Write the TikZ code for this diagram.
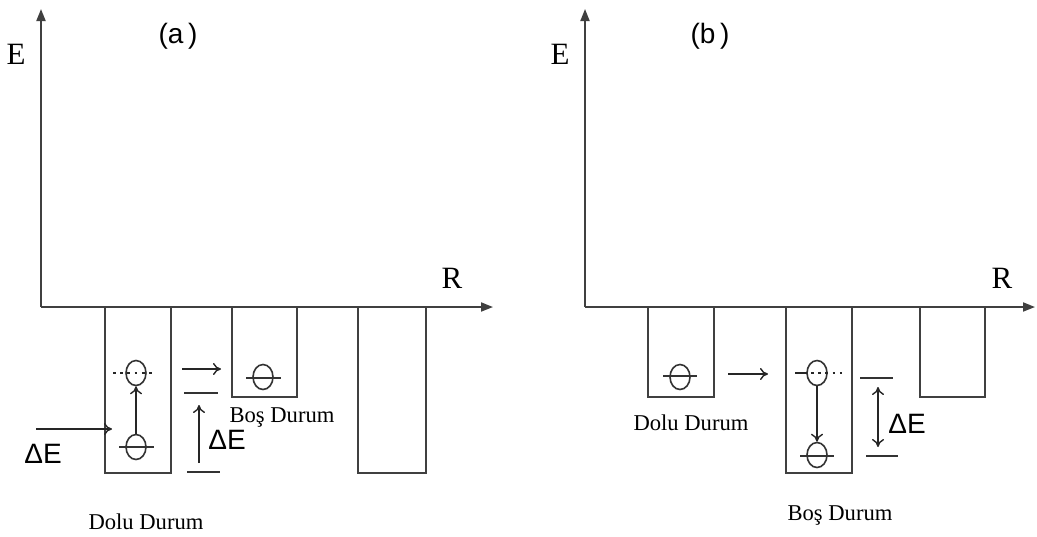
\documentclass[tikz,border=0pt]{standalone}
\usepackage{fontspec}
\setmainfont{Liberation Serif}
\newfontfamily\arialfont{Liberation Sans}
\usetikzlibrary{arrows.meta,shapes.geometric}

\begin{document}
\begin{tikzpicture}[x=0.5pt, y=-0.5pt,
  wall/.style={draw=black!75, line width=0.9pt},
  axis/.style={wall, -{Triangle[length=6pt, width=4.5pt]}},
  arr/.style={draw=black!85, line width=0.7pt, -{To[length=4pt, width=6pt]}},
  elec/.style={draw=black!80, line width=0.8pt, ellipse, minimum width=10pt, minimum height=12.5pt, inner sep=0pt},
  lvl/.style={draw=black!80, line width=0.8pt},
  dots/.style={draw=black!85, line width=1.4pt, dash pattern=on 1.4pt off 2.2pt},
  lbl/.style={font=\fontsize{11.3}{13}\selectfont, inner sep=0pt},
  big/.style={font=\fontsize{15.5}{17}\selectfont, inner sep=0pt},
  de/.style={font=\arialfont\fontsize{14}{16}\selectfont, inner sep=0pt},
  tag/.style={font=\arialfont\fontsize{14}{16}\selectfont, inner sep=0pt}
]
  \useasboundingbox (0,0) rectangle (1037,536);

  % Panel (a): axes
  \coordinate (oa) at (41,307);
  \coordinate (ea) at (41,9);
  \coordinate (ra) at (493,307);
  \draw[axis] (oa) -- (ea);
  \draw[axis] (oa) -- (ra);
  \node[big] (Ea) at (16,54) {E};
  \node[big] (Ra) at (452,278) {R};
  \node[tag] (tagA) at (178,36) {(a\,)};

  % Panel (a): wells
  \draw[wall] (105,307) |- (171,473) -- (171,307);
  \draw[wall] (232,307) |- (297,397) -- (297,307);
  \draw[wall] (358,307) |- (426,473) -- (426,307);

  % Panel (a): electrons and levels
  \node[elec] (aup) at (136,373) {};
  \node[elec] (alo) at (136,447) {};
  \node[elec] (abos) at (263,377) {};
  \draw[dots] (113,373) -- (156,373);
  \draw[lvl] (119,447) -- (154,447);
  \draw[lvl] (246,378) -- (281,378);
  \draw[arr] (alo) -- (aup);

  % Panel (a): excitation
  \coordinate (ain) at (36,429);
  \coordinate (aend) at (112,429);
  \draw[arr] (ain) -- (aend);
  \node[de] (dEa) at (43,454) {ΔE};
  \coordinate (tra) at (182,369);
  \coordinate (trb) at (221,369);
  \draw[arr] (tra) -- (trb);
  \draw[lvl] (184,393) -- (218,393);
  \draw[lvl] (187,472) -- (220,472);
  \coordinate (gapa) at (199,463);
  \coordinate (gapb) at (199,405);
  \draw[arr] (gapa) -- (gapb);
  \node[de] (dEb) at (227,440) {ΔE};
  \node[lbl] (bosA) at (282,417) {Boş Durum};
  \node[lbl] (doluA) at (146,522) {Dolu Durum};

  % Panel (b): axes
  \coordinate (ob) at (585,307);
  \coordinate (eb) at (585,9);
  \coordinate (rb) at (1035,307);
  \draw[axis] (ob) -- (eb);
  \draw[axis] (ob) -- (rb);
  \node[big] (Eb) at (560,54) {E};
  \node[big] (Rb) at (1002,278) {R};
  \node[tag] (tagB) at (710,36) {(b\,)};

  % Panel (b): wells
  \draw[wall] (648,307) |- (714,397) -- (714,307);
  \draw[wall] (786,307) |- (852,473) -- (852,307);
  \draw[wall] (920,307) |- (985,397) -- (985,307);

  % Panel (b): electrons and levels
  \node[elec] (bdolu) at (680,377) {};
  \node[elec] (bup) at (817,373) {};
  \node[elec] (blo) at (817,455) {};
  \draw[lvl] (663,376) -- (697,376);
  \draw[black!85, line width=1.4pt] (795,373) -- (807,373);
  \draw[dots] (811,373) -- (842,373);
  \draw[lvl] (800,456) -- (834,456);
  \draw[arr] (bup) -- (blo);

  % Panel (b): relaxation
  \coordinate (trc) at (728,374);
  \coordinate (trd) at (768,374);
  \draw[arr] (trc) -- (trd);
  \draw[lvl] (860,378) -- (893,378);
  \draw[lvl] (866,456) -- (898,456);
  \coordinate (gapc) at (878,387);
  \coordinate (gapd) at (878,447);
  \draw[arr, {To[length=4pt, width=6pt]}-{To[length=4pt, width=6pt]}] (gapc) -- (gapd);
  \node[de] (dEc) at (907,424) {ΔE};
  \node[lbl] (doluB) at (691,423) {Dolu Durum};
  \node[lbl] (bosB) at (840,515) {Boş Durum};

\end{tikzpicture}
\end{document}
